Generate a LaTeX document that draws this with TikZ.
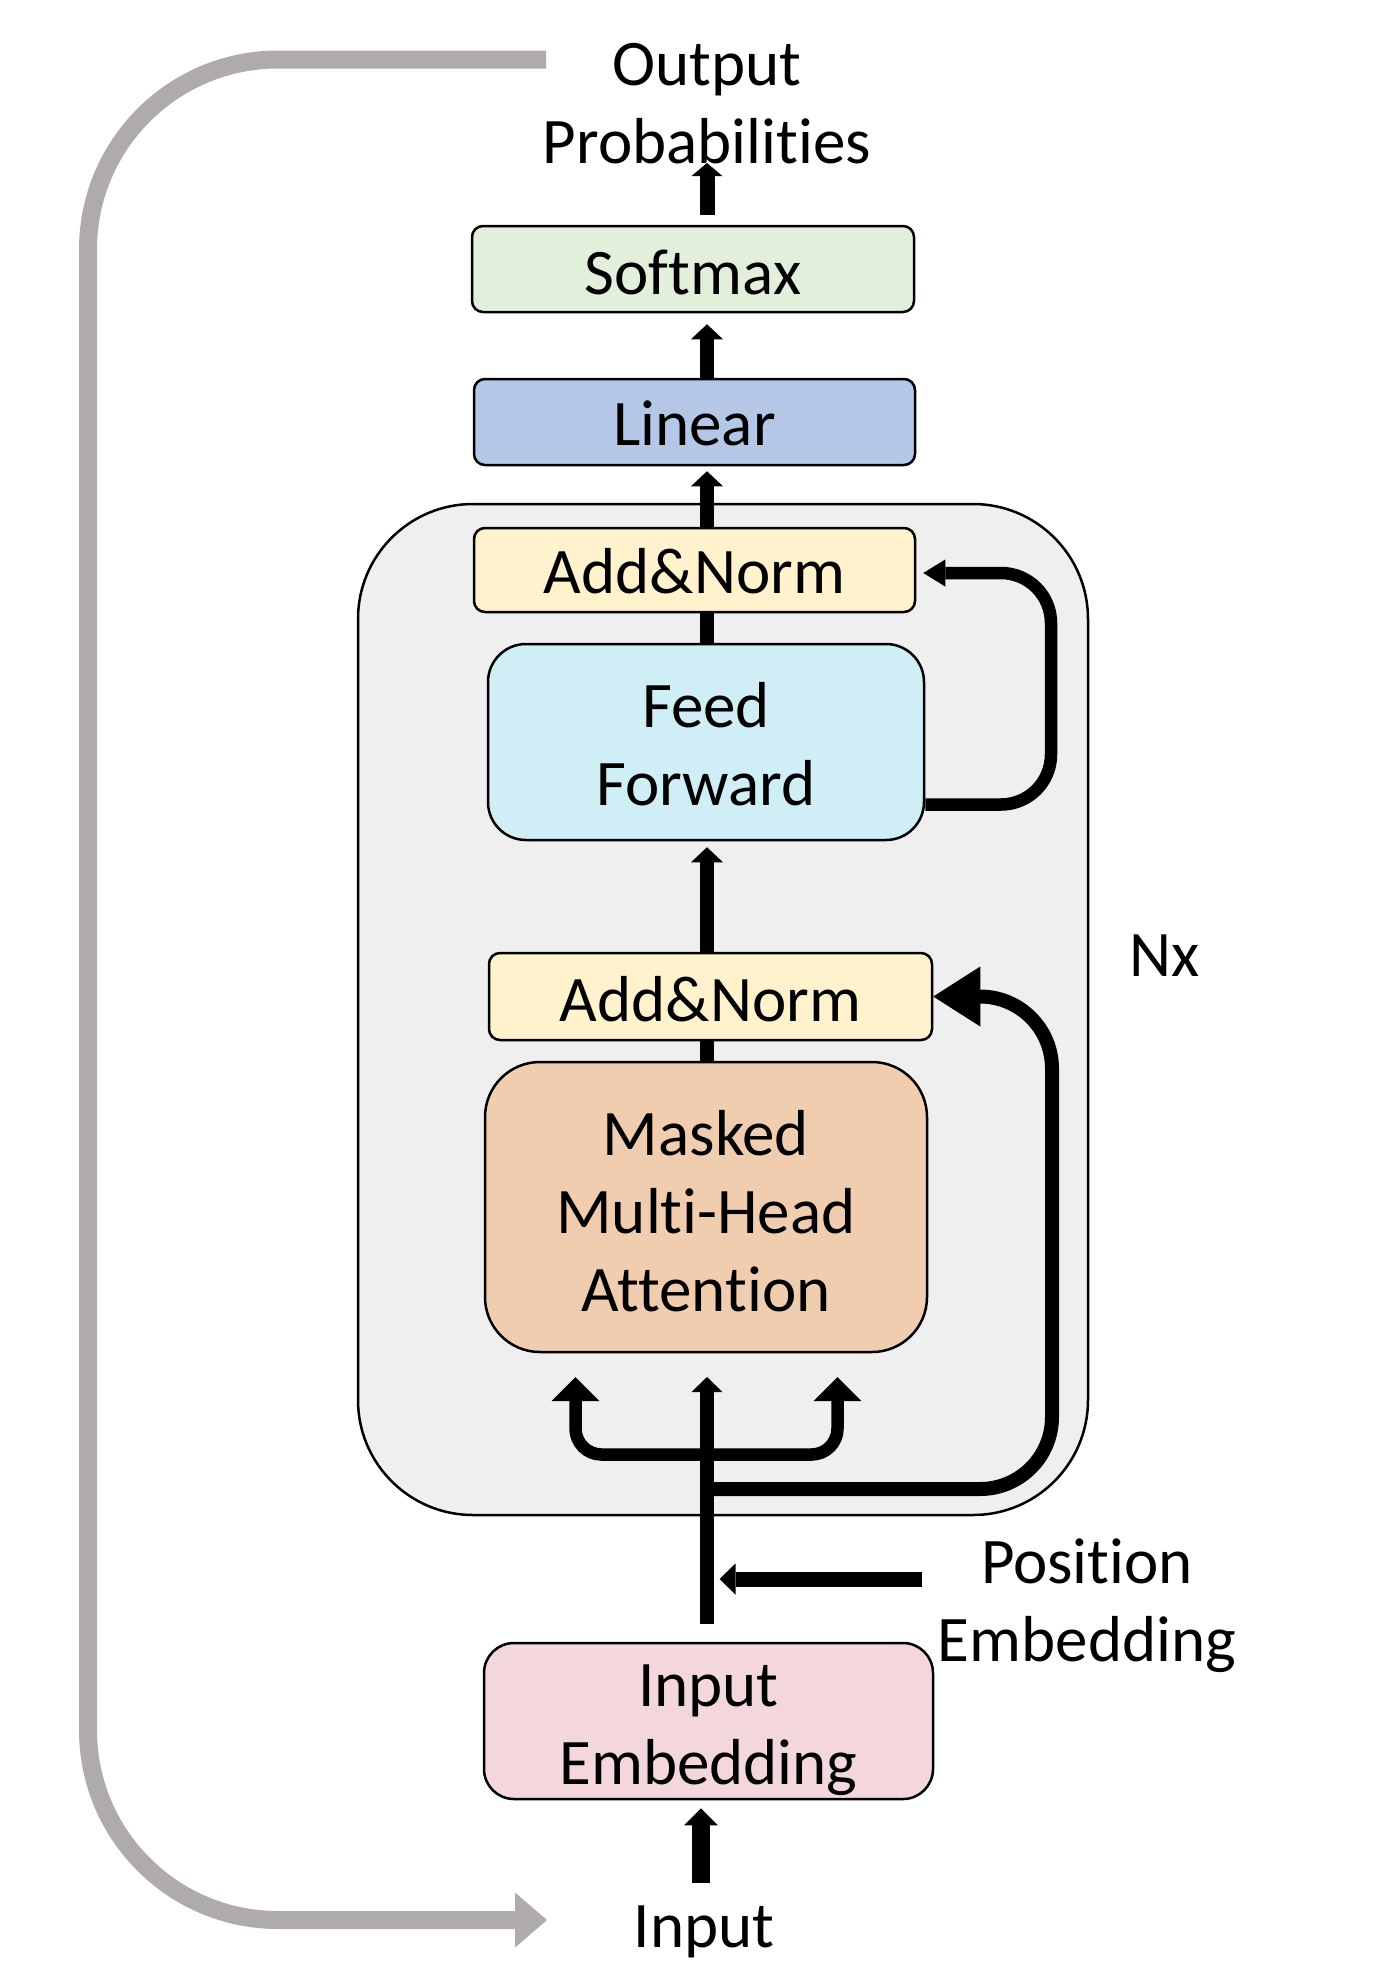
\documentclass[tikz,border=0pt]{standalone}
\usepackage{fontspec}
\setmainfont{Carlito}[Ligatures=NoCommon]
\usetikzlibrary{arrows.meta,calc}
\definecolor{cSoft}{HTML}{E2EFDA}
\definecolor{cLin}{HTML}{B4C7E7}
\definecolor{cAN}{HTML}{FFF2CC}
\definecolor{cFF}{HTML}{CFEEF5}
\definecolor{cMHA}{HTML}{F1CDB0}
\definecolor{cEmb}{HTML}{F3D7DD}
\definecolor{cBox}{HTML}{EFEFEF}
\definecolor{cGray}{HTML}{AFABAB}
\newcommand{\tstrut}[1]{\rule{0pt}{#1pt}}
\begin{document}
\begin{tikzpicture}[x=1pt,y=-1pt,
  lbl/.style={font=\fontsize{65pt}{78pt}\selectfont, align=center, inner sep=0pt},
  blk/.style={draw=black, line width=2.5pt, inner sep=0pt, lbl},
  smallbox/.style={blk, rounded corners=11pt},
  shaftA/.style={line width=14pt, -{Triangle[width=32pt,length=15pt,line width=0pt]}},
  plainshaft/.style={line width=14pt}
]
\useasboundingbox (0,0) rectangle (1381,1979);

% container
\node[draw=black, line width=2.5pt, fill=cBox, rounded corners=115pt,
      minimum width=730pt, minimum height=1011pt, inner sep=0pt] (stack) at (723,1009.5) {};

% blocks
\node[smallbox, fill=cSoft, minimum width=442pt, minimum height=86pt] (softmax) at (693,269) {\tstrut{51}Softmax};
\node[smallbox, fill=cLin, minimum width=441pt, minimum height=86pt] (linear) at (694.5,422) {\tstrut{47}Linear};
\node[smallbox, fill=cAN, minimum width=441pt, minimum height=84pt] (an1) at (694.5,570) {\tstrut{48}Add\&Norm};
\node[blk, fill=cFF, minimum width=436pt, minimum height=196pt, rounded corners=38pt] (ff) at (706,742) {\tstrut{50}Feed\\Forward};
\node[smallbox, fill=cAN, minimum width=443pt, minimum height=87pt] (an2) at (710.5,996.5) {\tstrut{50}Add\&Norm};
\node[blk, fill=cMHA, minimum width=442pt, minimum height=290pt, rounded corners=55pt] (mha) at (706,1207) {\tstrut{53}Masked\\Multi-Head\\Attention};
\node[blk, fill=cEmb, minimum width=449pt, minimum height=156pt, rounded corners=30pt] (emb) at (708.5,1721) {\tstrut{60}Input\\Embedding};

% labels
\node[lbl] (outp) at (707,103.5) {Output\\Probabilities};
\node[lbl, anchor=base] (nx) at (1165,976) {Nx};
\node[lbl] (pos) at (1087,1606) {Position\\Embedding};
\node[lbl, anchor=base] (inp) at (704,1947) {Input};

% coordinates
\coordinate (ax) at (707,0);
\coordinate (r1) at (1051,804.5);
\coordinate (r2) at (1051,573);
\coordinate (r3) at (1052,1489);
\coordinate (fl) at (575.5,1454.5);
\coordinate (fr) at (837.5,1454.5);
\coordinate (tipy) at (0,1377);
\coordinate (pst) at (921.7,1579);
\coordinate (ptip) at (719.5,1579);
\coordinate (inb) at (701,1883);
\coordinate (g1) at (546,59.5);
\coordinate (g2) at (88,59.5);
\coordinate (g3) at (88,1920);
\coordinate (g4) at (547,1920);

% main flow
\draw[line width=15pt, -{Triangle[width=31pt,length=13pt,line width=0pt]}] ([yshift=10pt]softmax.north -| ax) -- ([yshift=1pt]outp.south -| ax);
\draw[shaftA] (linear.north -| ax) -- ([yshift=-11pt]softmax.south -| ax);
\draw[shaftA] (an1.north -| ax) -- ([yshift=-5pt]linear.south -| ax);
\draw[plainshaft] (ff.north -| ax) -- (an1.south -| ax);
\draw[shaftA] (an2.north -| ax) -- ([yshift=-6pt]ff.south -| ax);
\draw[plainshaft] (mha.north -| ax) -- (an2.south -| ax);

% residual around feed forward
\draw[line width=12.5pt, rounded corners=50pt, -{Triangle[width=27pt,length=22pt,line width=0pt]}]
  (ff.east |- r1) -- (r1) -- (r2) -- ([xshift=7pt]an1.east |- r2);

% residual around attention
\draw[line width=14pt, rounded corners=72pt, -{Triangle[width=60pt,length=47pt,line width=0pt]}]
  (ax |- r3) -- (r3) -- (r3 |- an2.east) -- (an2.east);

% fork into attention
\draw[line width=12.5pt, rounded corners=26pt,
  {Triangle[width=48pt,length=24pt,line width=0pt]}-{Triangle[width=48pt,length=24pt,line width=0pt]}]
  (fl |- tipy) -- (fl) -- (fr) -- (fr |- tipy);
\draw[line width=14pt, -{Triangle[width=31pt,length=15pt,line width=0pt]}] ([yshift=18pt]emb.north -| ax) -- (ax |- tipy);

% position embedding
\draw[line width=15pt, -{Triangle[width=31pt,length=16pt,line width=0pt]}] (pst) -- (ptip);

% input
\draw[line width=17.5pt, -{Triangle[width=34pt,length=17pt,line width=0pt]}] (inb) -- ([yshift=-8pt]emb.south -| inb);

% gray loop
\draw[draw=cGray, line width=18pt, rounded corners=190pt, -{Triangle[width=55pt,length=32pt,line width=0pt]}]
  (g1) -- (g2) -- (g3) -- (g4);
\end{tikzpicture}
\end{document}
